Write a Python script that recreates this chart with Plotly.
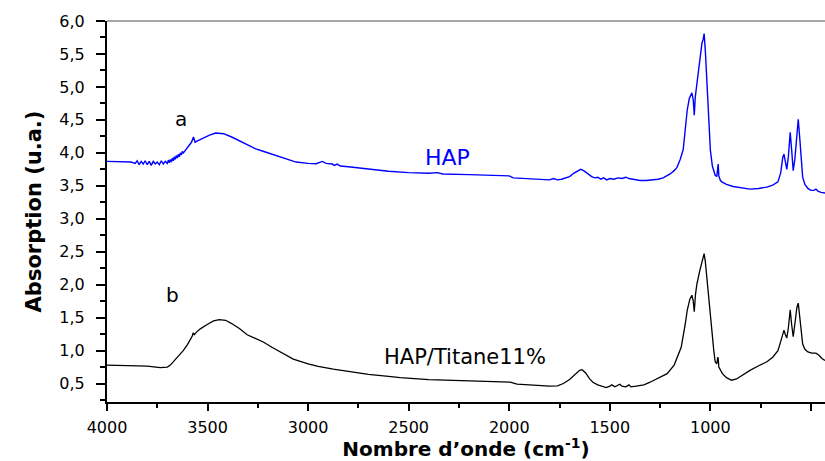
import plotly.graph_objects as go

# HAP (curve a, blue)
hap_wn = [4000, 3960, 3920, 3900, 3880, 3860, 3850, 3840, 3830, 3820, 3810, 3800, 3790, 3780, 3770,
          3760, 3750, 3740, 3730, 3720, 3710, 3700, 3695, 3690, 3685, 3680, 3675, 3670, 3665, 3660,
          3655, 3650, 3645, 3640, 3635, 3630, 3625, 3620,
          3610, 3600, 3590, 3580, 3570, 3562, 3550, 3520, 3490, 3460, 3440, 3420, 3380, 3340, 3300,
          3260, 3220, 3180, 3140, 3100, 3060, 3000, 2960, 2930, 2910, 2880, 2870, 2855, 2840, 2800,
          2700, 2600, 2500, 2400, 2358, 2330, 2200, 2100, 2000, 1980, 1900, 1800, 1780, 1760, 1740,
          1720, 1700, 1680, 1660, 1645, 1630, 1610, 1590, 1575, 1560, 1545, 1530, 1515, 1500, 1480,
          1460, 1440, 1420, 1405, 1390, 1370, 1350, 1320, 1290, 1260, 1235, 1200, 1180, 1166, 1150,
          1135, 1125, 1115, 1105, 1092, 1085, 1080, 1075, 1067, 1055, 1042, 1036, 1031, 1025, 1017,
          1008, 1000, 990, 976, 968, 963, 961, 958, 950, 943, 920, 887, 850, 803, 760,
          719, 690, 664, 650, 640, 634, 627, 620, 612, 603, 596, 588, 580, 570, 563,
          555, 548, 541, 530, 515, 500, 485, 475, 465, 450, 430]
hap_abs = [3.87, 3.865, 3.86, 3.855, 3.86, 3.84, 3.88, 3.82, 3.87, 3.83, 3.88, 3.82, 3.87, 3.81, 3.87,
           3.83, 3.86, 3.82, 3.88, 3.83, 3.87, 3.84, 3.89, 3.85, 3.90, 3.86, 3.92, 3.88, 3.94, 3.90,
           3.96, 3.92, 3.98, 3.94, 4.00, 3.97, 4.02, 4.00,
           4.04, 4.08, 4.12, 4.16, 4.24, 4.16, 4.18, 4.23, 4.27, 4.30, 4.30, 4.29, 4.24, 4.18, 4.12,
           4.06, 4.02, 3.98, 3.93, 3.89, 3.86, 3.84, 3.835, 3.87, 3.84, 3.83, 3.81, 3.83, 3.80, 3.79,
           3.75, 3.72, 3.70, 3.69, 3.70, 3.68, 3.67, 3.66, 3.65, 3.62, 3.61, 3.59, 3.61, 3.59, 3.60,
           3.62, 3.64, 3.69, 3.72, 3.75, 3.73, 3.68, 3.64, 3.62, 3.63, 3.60, 3.62, 3.59, 3.61, 3.60,
           3.62, 3.61, 3.63, 3.61, 3.60, 3.59, 3.58, 3.58, 3.59, 3.60, 3.62, 3.68, 3.73, 3.78, 3.90,
           4.05, 4.35, 4.65, 4.82, 4.91, 4.80, 4.57, 4.85, 5.07, 5.35, 5.66, 5.72, 5.81, 5.55, 5.05,
           4.50, 4.04, 3.80, 3.66, 3.64, 3.80, 3.83, 3.65, 3.58, 3.56, 3.52, 3.49, 3.47, 3.45, 3.46,
           3.48, 3.51, 3.56, 3.70, 3.93, 3.98, 3.85, 3.75, 3.95, 4.31, 4.05, 3.73, 3.90, 4.35, 4.51,
           4.20, 3.85, 3.63, 3.52, 3.46, 3.43, 3.43, 3.45, 3.42, 3.40, 3.39]

# HAP/Titane11% (curve b, black)
hti_wn = [4000, 3900, 3800, 3735, 3700, 3685, 3660, 3640, 3621, 3600, 3580, 3576, 3572, 3566, 3555,
          3536, 3500, 3470, 3442, 3410, 3380, 3340, 3303, 3260, 3223, 3180, 3120, 3074, 3000, 2950,
          2875, 2800, 2700, 2600, 2542, 2400, 2294, 2100, 1995, 1970, 1961, 1900, 1800, 1760, 1731,
          1700, 1670, 1650, 1638, 1620, 1600, 1584, 1560, 1540, 1518, 1500, 1490, 1475, 1460, 1450,
          1440, 1420, 1405, 1395, 1370, 1330, 1300, 1250, 1215, 1180, 1145, 1125, 1115, 1102, 1092,
          1085, 1080, 1074, 1067, 1052, 1040, 1031, 1025, 1017, 1005, 993, 983, 976, 968, 963,
          961, 958, 950, 940, 920, 894, 870, 840, 803, 760, 719, 690, 664, 650, 640,
          634, 627, 620, 612, 603, 596, 588, 580, 570, 563, 555, 548, 541, 530, 515,
          495, 475, 460, 445, 430]
hti_abs = [0.78, 0.775, 0.765, 0.74, 0.75, 0.78, 0.86, 0.93, 1.00, 1.09, 1.19, 1.22, 1.27, 1.24, 1.28,
           1.33, 1.40, 1.45, 1.47, 1.46, 1.41, 1.33, 1.24, 1.18, 1.13, 1.05, 0.95, 0.87, 0.80, 0.76,
           0.72, 0.685, 0.64, 0.61, 0.59, 0.56, 0.55, 0.53, 0.52, 0.50, 0.49, 0.48, 0.46, 0.465, 0.50,
           0.56, 0.65, 0.70, 0.71, 0.66, 0.57, 0.52, 0.48, 0.46, 0.44, 0.46, 0.48, 0.45, 0.47, 0.49,
           0.46, 0.45, 0.48, 0.45, 0.46, 0.48, 0.52, 0.60, 0.65, 0.78, 1.05, 1.40, 1.61, 1.78, 1.84,
           1.75, 1.59, 1.85, 2.01, 2.22, 2.38, 2.47, 2.35, 2.07, 1.70, 1.31, 1.00, 0.83, 0.80, 0.90,
           0.88, 0.75, 0.70, 0.65, 0.59, 0.55, 0.57, 0.63, 0.70, 0.77, 0.83, 0.90, 1.00, 1.14, 1.26,
           1.31, 1.24, 1.19, 1.35, 1.62, 1.40, 1.21, 1.40, 1.65, 1.72, 1.50, 1.25, 1.10, 1.02, 0.98,
           0.96, 0.96, 0.93, 0.88, 0.85]

x_ticks = [4000, 3500, 3000, 2500, 2000, 1500, 1000, 500]
x_tick_text = ["4000", "3500", "3000", "2500", "2000", "1500", "1000", "500"]
y_ticks = [0.5, 1.0, 1.5, 2.0, 2.5, 3.0, 3.5, 4.0, 4.5, 5.0, 5.5, 6.0]
y_tick_text = ["0,5", "1,0", "1,5", "2,0", "2,5", "3,0", "3,5", "4,0", "4,5", "5,0", "5,5", "6,0"]

# annotation labels: (text, x, y, colour, size)
labels = [("a", 3631, 4.52, "black", 20), ("b", 3675, 1.84, "black", 20),
          ("HAP", 2308, 3.93, "#0000FF", 22), ("HAP/Titane11%", 2219, 0.90, "black", 21)]

fig = go.Figure()
fig.add_trace(go.Scatter(x=hap_wn, y=hap_abs, mode="lines",
                         line=dict(color="#0000FF", width=1.4), showlegend=False))
fig.add_trace(go.Scatter(x=hti_wn, y=hti_abs, mode="lines",
                         line=dict(color="black", width=1.3), showlegend=False))

for t, x, y, c, s in labels:
    fig.add_annotation(x=x, y=y, text=t, showarrow=False,
                       font=dict(family="DejaVu Sans", size=s, color=c))

# top frame line (grey)
fig.add_shape(type="line", xref="paper", yref="paper", x0=0, x1=1, y0=1, y1=1,
              line=dict(color="#888888", width=1.5))

fig.update_xaxes(range=[4000, 430], tickvals=x_ticks, ticktext=x_tick_text,
                 showline=True, linecolor="black", linewidth=2,
                 ticks="outside", ticklen=7, tickwidth=2, tickcolor="black",
                 minor=dict(ticks="outside", ticklen=4, tickwidth=1.5, tickcolor="black", dtick=250),
                 showgrid=False, zeroline=False, ticklabelstandoff=3,
                 tickfont=dict(family="DejaVu Sans", size=16, color="black"),
                 title=dict(text="Nombre d’onde (cm<sup>-1</sup>)", standoff=10,
                            font=dict(family="DejaVu Sans", size=20, color="black", weight="bold")))
fig.update_yaxes(range=[0.22, 6.0], tickvals=y_ticks, ticktext=y_tick_text,
                 showline=True, linecolor="black", linewidth=2,
                 ticks="outside", ticklen=9, tickwidth=2, tickcolor="black",
                 minor=dict(ticks="outside", ticklen=5, tickwidth=1.5, tickcolor="black", dtick=0.25),
                 showgrid=False, zeroline=False, ticklabelstandoff=8,
                 tickfont=dict(family="DejaVu Sans", size=16, color="black"),
                 title=dict(text="Absorption (u.a.)", standoff=12,
                            font=dict(family="DejaVu Sans", size=21, color="black", weight="bold")))

fig.update_layout(width=825, height=461, margin=dict(l=107, r=0, t=21, b=59),
                  plot_bgcolor="white", paper_bgcolor="white")

fig.write_html("out.html")
